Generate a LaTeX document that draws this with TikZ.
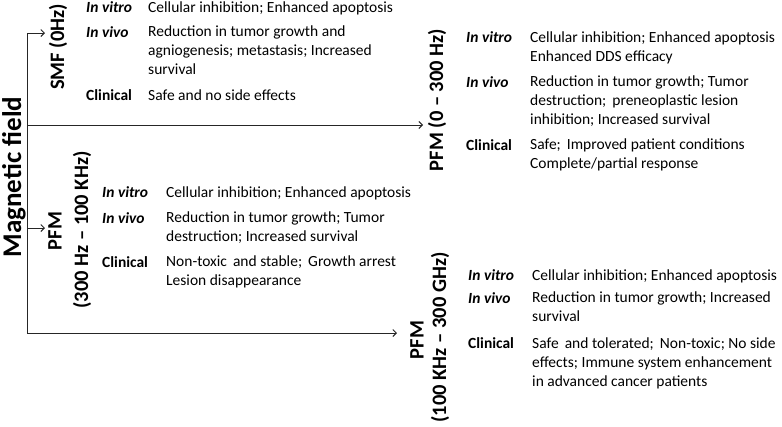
\documentclass[tikz,border=0pt]{standalone}
\usepackage{fontspec}
\setmainfont{Carlito}
\usetikzlibrary{arrows.meta}
\begin{document}
\begin{tikzpicture}[x=1pt,y=-1pt,
  line/.style={draw=black!85, line width=1pt},
  arr/.style={line, -{Straight Barb[length=3.5pt,width=7pt]}},
  big/.style={font=\fontsize{27}{30}\selectfont\bfseries, rotate=90, inner sep=0pt},
  freq/.style={font=\fontsize{20.5}{26}\selectfont\bfseries, rotate=90, inner sep=0pt},
  lab/.style={font=\fontsize{15.5}{18.6}\selectfont\bfseries, anchor=base west, inner sep=0pt},
  ilab/.style={lab, font=\fontsize{15.5}{18.6}\selectfont\bfseries\itshape},
  desc/.style={font=\fontsize{15.5}{18.6}\selectfont, anchor=base west, inner sep=0pt, align=left}]
\useasboundingbox (0,0) rectangle (782,426);

% trunk and title
\node[big] (mf) at (14,177) {Magnetic field};
\coordinate (top) at (27,33);
\coordinate (bot) at (27,333);
\coordinate (jmid) at (27,125);
\coordinate (j3) at (27,228);
\coordinate (e1) at (45,33);
\coordinate (e2) at (423,125);
\coordinate (e3) at (45,228);
\coordinate (e4) at (397,333);
\draw[line] (top) -- (bot);
\draw[arr] (top) -- (e1);
\draw[arr] (jmid) -- (e2);
\draw[arr] (j3) -- (e3);
\draw[arr] (bot) -- (e4);

% SMF (multi-line descriptions are placed by the baseline of their last line)
\node[freq] (smf) at (58,47) {SMF (0Hz)};
\node[ilab] (s1) at (86,12) {In vitro};
\node[ilab] (s2) at (86,37) {In vivo};
\node[lab]  (s3) at (86,100) {Clinical};
\node[desc] (sd1) at (148,12) {Cellular inhibition; Enhanced apoptosis};
\node[desc] (sd2) at (148,74) {Reduction in tumor growth and\\agniogenesis; metastasis; Increased\\survival};
\node[desc] (sd3) at (148,100) {Safe and no side effects};

% PFM 0-300 Hz
\node[freq] (p1) at (437,100) {PFM (0 -- 300 Hz)};
\node[ilab] (a1) at (466,42) {In vitro};
\node[ilab] (a2) at (466,87) {In vivo};
\node[lab]  (a3) at (466,150) {Clinical};
\node[desc] (ad1) at (530,61) {Cellular inhibition; Enhanced apoptosis\\Enhanced DDS efficacy};
\node[desc] (ad2) at (530,124) {Reduction in tumor growth; Tumor\\destruction;\, preneoplastic lesion\\inhibition; Increased survival};
\node[desc] (ad3) at (530,168.5) {Safe;\, Improved patient conditions\\Complete/partial response};

% PFM 300 Hz - 100 KHz
\node[freq] (p2a) at (55,231) {PFM};
\node[freq] (p2b) at (82,230) {(300 Hz -- 100 KHz)};
\node[ilab] (b1) at (102,197) {In vitro};
\node[ilab] (b2) at (102,223) {In vivo};
\node[lab]  (b3) at (102,267) {Clinical};
\node[desc] (bd1) at (166,197) {Cellular inhibition; Enhanced apoptosis};
\node[desc] (bd2) at (166,241.5) {Reduction in tumor growth; Tumor\\destruction; Increased survival};
\node[desc] (bd3) at (166,285.5) {Non-toxic\, and stable;\, Growth arrest\\Lesion disappearance};

% PFM 100 KHz - 300 GHz
\node[freq] (p3a) at (417,340) {PFM};
\node[freq] (p3b) at (440,337.5) {(100 KHz -- 300 GHz)};
\node[ilab] (c1) at (468,280) {In vitro};
\node[ilab] (c2) at (468,303) {In vivo};
\node[lab]  (c3) at (468,348) {Clinical};
\node[desc] (cd1) at (532,280) {Cellular inhibition; Enhanced apoptosis};
\node[desc] (cd2) at (532,321.5) {Reduction in tumor growth; Increased\\survival};
\node[desc] (cd3) at (532,386) {Safe\, and tolerated;\, Non-toxic; No side\\effects; Immune system enhancement\\in advanced cancer patients};
\end{tikzpicture}
\end{document}
